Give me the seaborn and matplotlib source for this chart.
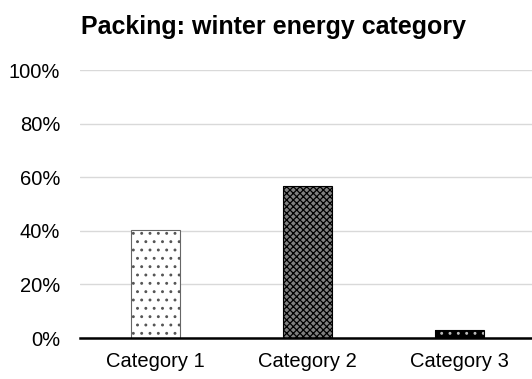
import matplotlib
matplotlib.use("Agg")
import matplotlib.pyplot as plt
import seaborn as sns
import pandas as pd

# data
categories = ["Category 1", "Category 2", "Category 3"]
shares = [0.403, 0.567, 0.03]
y_ticks = [0, 0.2, 0.4, 0.6, 0.8, 1.0]
y_labels = ["0%", "20%", "40%", "60%", "80%", "100%"]

df = pd.DataFrame({"category": categories, "share": shares})

sns.set_style("white")
plt.rcParams["font.family"] = ["Liberation Sans", "DejaVu Sans"]
plt.rcParams["hatch.linewidth"] = 0.9

fig = plt.figure(figsize=(5.32, 3.79), dpi=100)
ax = fig.add_axes([0.150, 0.108, 0.857, 0.707])

sns.barplot(data=df, x="category", y="share", color="white", width=0.32, ax=ax)

# pattern fills like the original
styles = [
    dict(facecolor="white", edgecolor="#666666", hatch="..", hcolor="#555555"),
    dict(facecolor="#808080", edgecolor="black", hatch="xxxxx", hcolor="black"),
    dict(facecolor="black", edgecolor="black", hatch="..", hcolor="#bbbbbb"),
]
for bar, st in zip(ax.patches, styles):
    bar.set_facecolor(st["facecolor"])
    bar.set_edgecolor(st["hcolor"])
    bar.set_hatch(st["hatch"])
    bar.set_linewidth(0)
    # outline drawn separately so hatch colour can differ
    ax.add_patch(plt.Rectangle(bar.get_xy(), bar.get_width(), bar.get_height(),
                               fill=False, edgecolor=st["edgecolor"], linewidth=0.8))

ax.set_ylim(0, 1.0)
ax.set_xlim(-0.5, 2.5)
ax.set_yticks(y_ticks)
ax.set_yticklabels(y_labels)
ax.yaxis.grid(True, color="#d9d9d9", linewidth=1)
ax.set_axisbelow(True)
ax.set_xlabel("")
ax.set_ylabel("")
ax.tick_params(axis="both", labelsize=14.5, length=0, labelcolor="black")
ax.tick_params(axis="x", pad=10)
ax.tick_params(axis="y", pad=14)
for s in ["top", "right", "left"]:
    ax.spines[s].set_visible(False)
ax.spines["bottom"].set_color("black")
ax.spines["bottom"].set_linewidth(1.8)

fig.text(0.515, 0.93, "Packing: winter energy category", ha="center", va="center",
         fontsize=18, fontweight="bold", color="black")

fig.savefig("out.png", dpi=100)
